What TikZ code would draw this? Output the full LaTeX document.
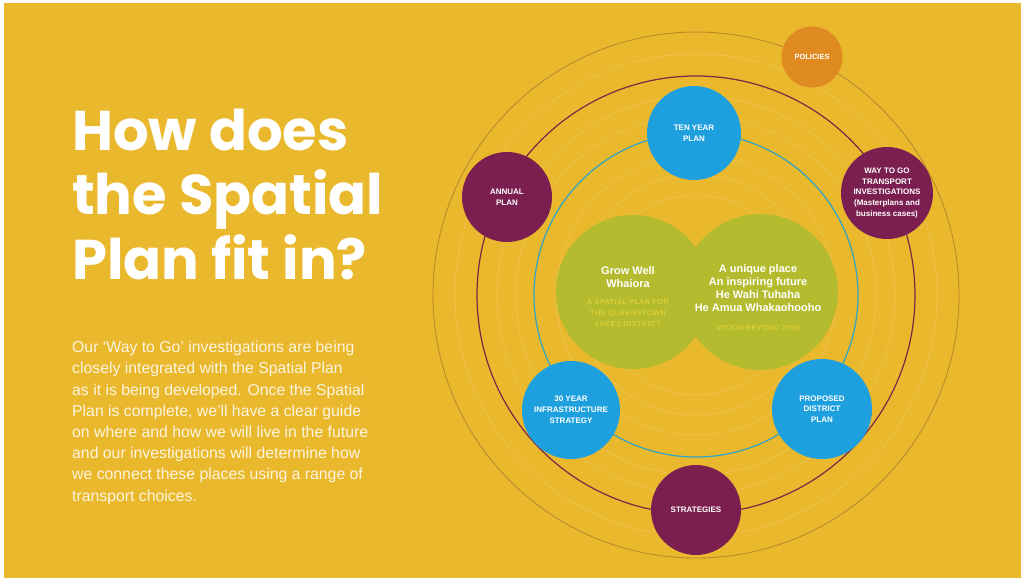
\documentclass[tikz,border=0pt]{standalone}
\usepackage{fontspec}
\setmainfont{Liberation Sans}
\newfontfamily\titlefont{Poppins}
\definecolor{bgyellow}{HTML}{EAB82C}
\definecolor{nodeblue}{HTML}{1EA0DE}
\definecolor{nodepurple}{HTML}{7A1F50}
\definecolor{nodeorange}{HTML}{E08A22}
\definecolor{planegreen}{HTML}{B4BB2E}
\definecolor{subyellow}{HTML}{ECD83A}
\definecolor{ringbrown}{HTML}{B98B2C}
\definecolor{ringpurple}{HTML}{7A2848}
\definecolor{ringblue}{HTML}{2EA3C8}
\tikzset{
  faintring/.style={draw=white, opacity=0.17, line width=0.7pt},
  planbubble/.style={circle, inner sep=0pt, text=white, align=center,
    font=\fontsize{8}{10.8}\selectfont\bfseries},
  bluebubble/.style={planbubble, fill=nodeblue},
  purplebubble/.style={planbubble, fill=nodepurple},
  greendisc/.style={circle, fill=planegreen, inner sep=0pt},
  titleline/.style={anchor=base west, inner sep=0pt, text=white,
    font=\titlefont\bfseries\fontsize{56}{64}\selectfont},
  greenhead/.style={inner sep=0pt, text=white, align=center,
    font=\fontsize{11}{13}\selectfont\bfseries},
  greensub/.style={inner sep=0pt, text=subyellow, align=center,
    font=\fontsize{7.2}{11}\selectfont\addfontfeature{LetterSpace=8}}
}
\begin{document}
\begin{tikzpicture}[x=1pt,y=-1pt]
% page and background panel
\fill[white] (0,0) rectangle (1029,582);
\fill[bgyellow] (4,3) rectangle (1021,578);
\useasboundingbox (0,0) rectangle (1029,582);

% heading
\node[titleline] (title1) at (72,150) {How does};
\node[titleline] (title2) at (72,214) {the Spatial};
\node[titleline] (title3) at (72,279) {Plan fit in?};

% introduction paragraph
\node[anchor=north west, inner sep=0pt, align=left, text=white, opacity=0.85,
  font=\fontsize{15.8}{21.2}\selectfont] (intro) at (72,341)
  {Our ‘Way to Go’ investigations are being\\
   closely integrated with the Spatial Plan\\
   as it is being developed. Once the Spatial\\
   Plan is complete, we’ll have a clear guide\\
   on where and how we will live in the future\\
   and our investigations will determine how\\
   we connect these places using a range of\\
   transport choices.};

% concentric rings
\coordinate (hub) at (696,295);
\foreach \r in {100,120,140,180,199,241}
  \draw[faintring] (hub) circle[radius=\r pt];
\draw[ringbrown, line width=0.9pt] (hub) circle[radius=263pt];
\draw[ringpurple, line width=1.2pt] (hub) circle[radius=219pt];
\draw[ringblue, line width=1.2pt] (hub) circle[radius=162pt];

% the two overlapping plan discs
\node[greendisc, minimum size=154pt] (growdisc) at (633,292) {};
\node[greendisc, minimum size=156pt] (visiondisc) at (760,292) {};

\node[greenhead] (growname) at (628,277) {Grow Well\\Whaiora};
\node[greensub] (growsub) at (628,313) {A SPATIAL PLAN FOR\\THE QUEENSTOWN\\LAKES DISTRICT};
\node[greenhead, font=\fontsize{11}{12.9}\selectfont\bfseries] (visiontext) at (758,288)
  {A unique place\\An inspiring future\\He Wahi Tuhaha\\He Amua Whakaohooho};
\node[greensub] (visionsub) at (758,328) {VISION BEYOND 2050};

% surrounding plan bubbles
\node[planbubble, fill=nodeorange, minimum size=61pt,
  font=\fontsize{7.5}{10}\selectfont\bfseries] (policies) at (812,57) {POLICIES};
\node[bluebubble, minimum size=94pt] (tenyear) at (694,133) {TEN YEAR\\PLAN};
\node[purplebubble, minimum size=90pt] (annual) at (507,197) {ANNUAL\\PLAN};
\node[purplebubble, minimum size=92pt] (waytogo) at (887,193)
  {WAY TO GO\\TRANSPORT\\INVESTIGATIONS\\(Masterplans and\\business cases)};
\node[bluebubble, minimum size=98pt] (thirtyyear) at (571,410)
  {30 YEAR\\INFRASTRUCTURE\\STRATEGY};
\node[bluebubble, minimum size=100pt] (district) at (822,409)
  {PROPOSED\\DISTRICT\\PLAN};
\node[purplebubble, minimum size=90pt] (strategies) at (696,510) {STRATEGIES};
\end{tikzpicture}
\end{document}
